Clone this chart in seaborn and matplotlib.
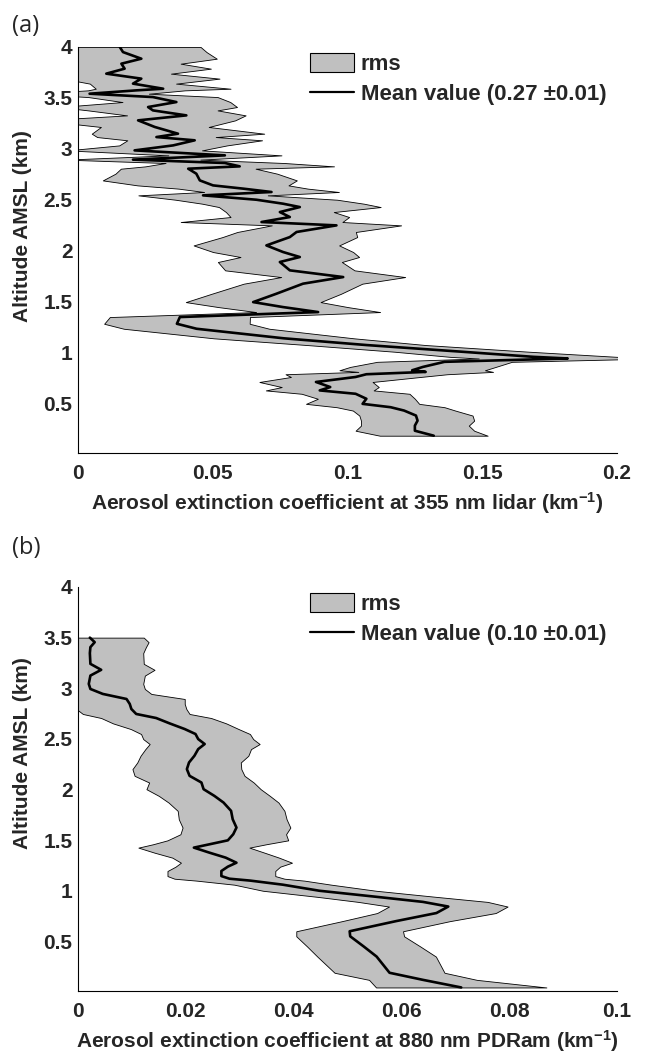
import numpy as np
import pandas as pd
import seaborn as sns
import matplotlib
matplotlib.use("Agg")
import matplotlib.pyplot as plt
from matplotlib.patches import Patch
from matplotlib.lines import Line2D

# ---- panel (a): 355 nm lidar
alt_a = [4.00, 3.95, 3.885, 3.836, 3.787, 3.738, 3.689, 3.640, 3.590, 3.574,
         3.541, 3.508, 3.459, 3.410, 3.377, 3.328, 3.279, 3.214, 3.148, 3.115,
         3.083, 3.033, 2.984, 2.935, 2.893, 2.860, 2.827, 2.804, 2.755, 2.689,
         2.640, 2.608, 2.575, 2.542, 2.499, 2.460, 2.427, 2.378, 2.329, 2.280,
         2.247, 2.182, 2.132, 2.050, 1.985, 1.936, 1.887, 1.805, 1.739, 1.674,
         1.575, 1.493, 1.444, 1.395, 1.346, 1.280, 1.231, 1.137, 1.071, 1.005,
         0.955, 0.939, 0.906, 0.856, 0.823, 0.807, 0.784, 0.757, 0.708, 0.658,
         0.625, 0.592, 0.543, 0.493, 0.460, 0.427, 0.378, 0.328, 0.279, 0.229,
         0.180]
mean_a = [0.0155, 0.0167, 0.0235, 0.0161, 0.0173, 0.0105, 0.0235, 0.0204, 0.0316, 0.0217,
          0.0043, 0.0278, 0.0365, 0.0260, 0.0278, 0.0402, 0.0223, 0.0285, 0.0371, 0.0291,
          0.0433, 0.0353, 0.0210, 0.0545, 0.0204, 0.0545, 0.0600, 0.0409, 0.0439, 0.0452,
          0.0501, 0.0613, 0.0718, 0.0464, 0.0662, 0.0761, 0.0823, 0.0749, 0.0786, 0.0681,
          0.0959, 0.0811, 0.0786, 0.0699, 0.0761, 0.0823, 0.0749, 0.0786, 0.0984, 0.0835,
          0.0736, 0.0650, 0.0761, 0.0891, 0.0378, 0.0367, 0.0440, 0.0764, 0.1070, 0.1426,
          0.1690, 0.1817, 0.1360, 0.1280, 0.1240, 0.1290, 0.1070, 0.1030, 0.0883, 0.0936,
          0.0897, 0.1030, 0.1070, 0.1056, 0.1160, 0.1210, 0.1254, 0.1260, 0.1250, 0.1250,
          0.1320]
rms_a = [0.030, 0.031, 0.028, 0.022, 0.032, 0.024, 0.029, 0.016, 0.025, 0.018,
         0.022, 0.024, 0.020, 0.033, 0.024, 0.022, 0.036, 0.020, 0.032, 0.022,
         0.025, 0.020, 0.025, 0.021, 0.025, 0.022, 0.035, 0.025, 0.030, 0.036,
         0.028, 0.024, 0.025, 0.024, 0.030, 0.030, 0.030, 0.020, 0.022, 0.030,
         0.024, 0.022, 0.025, 0.027, 0.026, 0.022, 0.023, 0.024, 0.023, 0.022,
         0.024, 0.025, 0.024, 0.023, 0.026, 0.027, 0.027, 0.026, 0.022, 0.025,
         0.031, 0.033, 0.025, 0.027, 0.027, 0.025, 0.030, 0.024, 0.021, 0.018,
         0.020, 0.020, 0.018, 0.021, 0.020, 0.019, 0.021, 0.021, 0.020, 0.022,
         0.020]

# ---- panel (b): 880 nm PDRam
alt_b = [3.50, 3.455, 3.406, 3.347, 3.241, 3.182, 3.125, 3.043, 2.993, 2.944,
         2.894, 2.845, 2.795, 2.746, 2.706, 2.653, 2.597, 2.548, 2.498, 2.449,
         2.399, 2.333, 2.267, 2.201, 2.135, 2.069, 2.003, 1.937, 1.871, 1.789,
         1.706, 1.624, 1.558, 1.498, 1.459, 1.426, 1.376, 1.327, 1.277, 1.238,
         1.195, 1.145, 1.119, 1.10, 1.06, 1.00, 0.94, 0.89, 0.844, 0.78,
         0.70, 0.60, 0.55, 0.45, 0.35, 0.19, 0.12, 0.045]
mean_b = [0.0022, 0.0031, 0.0023, 0.0022, 0.0023, 0.0043, 0.0023, 0.0020, 0.0023, 0.0046,
          0.0090, 0.0096, 0.0099, 0.0108, 0.0145, 0.0170, 0.0198, 0.0218, 0.0223, 0.0235,
          0.0223, 0.0216, 0.0206, 0.0202, 0.0207, 0.0229, 0.0233, 0.0253, 0.0270, 0.0284,
          0.0287, 0.0294, 0.0288, 0.0278, 0.0244, 0.0215, 0.0244, 0.0274, 0.0294, 0.0278,
          0.0266, 0.0266, 0.0281, 0.0320, 0.0380, 0.0448, 0.0554, 0.0640, 0.0687, 0.0665,
          0.0590, 0.0504, 0.0505, 0.0530, 0.0554, 0.0578, 0.0640, 0.0711]
rms_b = [0.0100, 0.0100, 0.0103, 0.0099, 0.0099, 0.0099, 0.0101, 0.0101, 0.0101, 0.0090,
         0.0108, 0.0102, 0.0102, 0.0099, 0.0102, 0.0105, 0.0100, 0.0101, 0.0102, 0.0102,
         0.0098, 0.0100, 0.0096, 0.0101, 0.0102, 0.0097, 0.0106, 0.0103, 0.0102, 0.0099,
         0.0100, 0.0100, 0.0098, 0.0112, 0.0105, 0.0103, 0.0102, 0.0099, 0.0103, 0.0097,
         0.0100, 0.0100, 0.0102, 0.0100, 0.0090, 0.0105, 0.0110, 0.0120, 0.0110, 0.0110,
         0.0100, 0.0099, 0.0100, 0.0105, 0.0110, 0.0102, 0.0100, 0.0158]

xticks_a = [0, 0.05, 0.1, 0.15, 0.2]
xticks_b = [0, 0.02, 0.04, 0.06, 0.08, 0.1]
yticks = [0.5, 1, 1.5, 2, 2.5, 3, 3.5, 4]

xlabel_a = "Aerosol extinction coefficient at 355 nm lidar (km$^{-1}$)"
xlabel_b = "Aerosol extinction coefficient at 880 nm PDRam (km$^{-1}$)"
legend_a = "Mean value (0.27 \u00b10.01)"
legend_b = "Mean value (0.10 \u00b10.01)"

sns.set_theme(style="white")
plt.rcParams['font.family'] = ['Liberation Sans', 'DejaVu Sans']
plt.rcParams['font.weight'] = 'bold'
plt.rcParams['mathtext.fontset'] = 'custom'
plt.rcParams['mathtext.rm'] = 'Liberation Sans:bold'
plt.rcParams['mathtext.bf'] = 'Liberation Sans:bold'
plt.rcParams['mathtext.default'] = 'bf'

band_color = "#c0c0c0"
W, H = 653, 1055

fig = plt.figure(figsize=(W / 100, H / 100), dpi=100)
ax_a = fig.add_axes([78 / W, 1 - 453 / H, 539 / W, 406 / H])
ax_b = fig.add_axes([78 / W, 1 - 991 / H, 539 / W, 404 / H])


def draw_panel(ax, alt, mean, rms, xmax, xticks, xlabel, leg_label, ylab_y):
    df = pd.DataFrame({"alt": alt, "mean": mean, "rms": rms})
    ax.fill_betweenx(df["alt"], df["mean"] - df["rms"], df["mean"] + df["rms"],
                     facecolor=band_color, edgecolor="black", linewidth=0.6, zorder=1)
    sns.lineplot(data=df, x="mean", y="alt", orient="y", sort=False,
                 color="black", linewidth=1.9, ax=ax, zorder=2)

    ax.set_xlim(0, xmax)
    ax.set_ylim(0.01, 4)
    ax.set_xticks(xticks)
    ax.set_xticklabels(["%g" % t for t in xticks])
    ax.set_yticks(yticks)
    ax.set_yticklabels(["%g" % t for t in yticks])
    ax.tick_params(axis="both", direction="in", length=4, width=0.7,
                   labelsize=15, color="black")
    ax.tick_params(axis="x", pad=8)
    ax.tick_params(axis="y", pad=4)
    for s in ["top", "right"]:
        ax.spines[s].set_visible(False)
    for s in ["left", "bottom"]:
        ax.spines[s].set_color("black")
        ax.spines[s].set_linewidth(0.8)

    ax.set_xlabel(xlabel, fontsize=15, fontweight="bold", labelpad=5)
    ax.set_ylabel("Altitude AMSL (km)", fontsize=15, fontweight="bold")
    ax.yaxis.set_label_coords(-0.085, ylab_y)

    handles = [Patch(facecolor=band_color, edgecolor="black", linewidth=0.8),
               Line2D([], [], color="black", linewidth=1.6)]
    ax.legend(handles, ["rms", leg_label], loc="upper left",
              bbox_to_anchor=(0.43, 0.985), frameon=False,
              prop={"size": 16, "weight": "bold"},
              handlelength=2.0, handleheight=0.95, handletextpad=0.3,
              labelspacing=0.35, borderpad=0, borderaxespad=0)


draw_panel(ax_a, alt_a, mean_a, rms_a, 0.2, xticks_a, xlabel_a, legend_a, 0.56)
draw_panel(ax_b, alt_b, mean_b, rms_b, 0.1, xticks_b, xlabel_b, legend_b, 0.59)

fig.text(12 / W, 1 - 26 / H, "(a)", fontsize=17, fontweight="normal",
         family=["Open Sans", "DejaVu Sans"], va="center", ha="left")
fig.text(12 / W, 1 - 548 / H, "(b)", fontsize=17, fontweight="normal",
         family=["Open Sans", "DejaVu Sans"], va="center", ha="left")

fig.savefig("out.png", dpi=100)
